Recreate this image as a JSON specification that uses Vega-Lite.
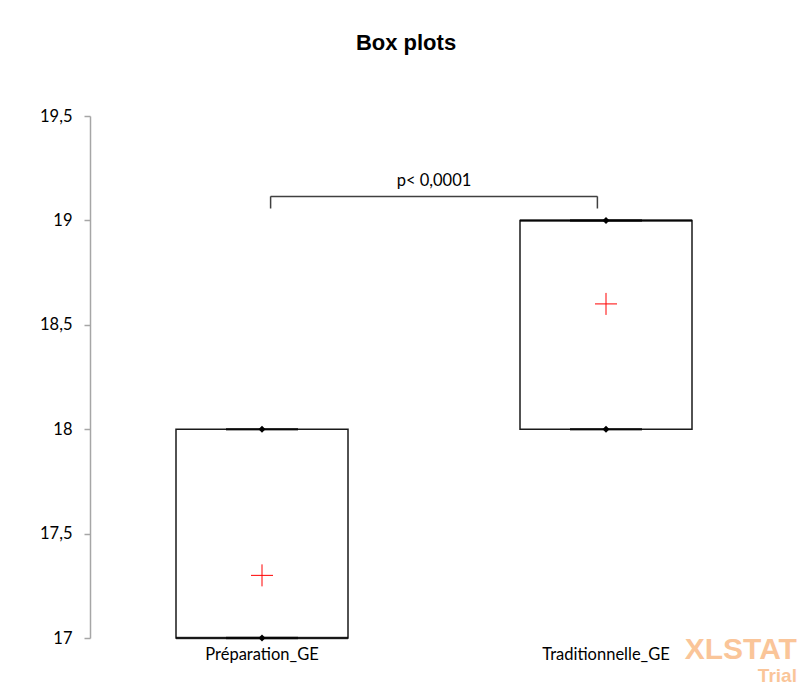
{
  "$schema": "https://vega.github.io/schema/vega-lite/v6.json",
  "width": 688,
  "height": 522,
  "autosize": {"type": "none"},
  "padding": {"left": 90, "top": 116, "right": 22, "bottom": 47},
  "background": "white",
  "title": {"text": "Box plots", "font": "Liberation Sans", "fontSize": 22, "fontWeight": "bold", "color": "#000000", "anchor": "middle", "dx": -28, "offset": 53},
  "datasets": {
    "boxes": [
      {"grp": "Préparation_GE", "min": 17, "q1": 17, "median": 17, "q3": 18, "max": 18, "mean": 17.3},
      {"grp": "Traditionnelle_GE", "min": 18, "q1": 18, "median": 19, "q3": 19, "max": 19, "mean": 18.6}
    ],
    "annot": [
      {"g1": "Préparation_GE", "g2": "Traditionnelle_GE", "ytop": 19.115, "ybot": 19.057, "ylab": 19.187, "label": "p< 0,0001"}
    ],
    "mark": [
      {"grp": "Traditionnelle_GE", "y": 16.9, "label": "XLSTAT", "kind": "big"},
      {"grp": "Traditionnelle_GE", "y": 16.79, "label": "Trial", "kind": "small"}
    ]
  },
  "config": {
    "locale": {"number": {"decimal": ",", "thousands": " ", "grouping": [3], "currency": ["", " €"]}},
    "view": {"stroke": null},
    "font": "Lato"
  },
  "layer": [
    {
      "data": {"name": "boxes"},
      "mark": {"type": "bar", "fill": "white", "stroke": "#1a1a1a", "strokeWidth": 1.5},
      "encoding": {
        "x": {"field": "grp", "type": "nominal", "scale": {"domain": ["Préparation_GE", "Traditionnelle_GE"], "paddingInner": 0.5, "paddingOuter": 0.25},
              "axis": {"title": null, "domain": false, "ticks": false, "labelAngle": 0, "labelFont": "Lato", "labelFontSize": 16.5, "labelColor": "#000000", "labelPadding": 8}},
        "y": {"field": "q1", "type": "quantitative", "scale": {"domain": [17, 19.5], "nice": false, "zero": false},
              "axis": {"title": null, "values": [17, 17.5, 18, 18.5, 19, 19.5], "format": ".1~f", "grid": false, "domainColor": "#a6a6a6", "domainWidth": 1.5, "tickColor": "#a6a6a6", "tickSize": 6, "tickWidth": 1.5, "labelFont": "Lato", "labelFontSize": 16.5, "labelColor": "#000000", "labelPadding": 12}},
        "y2": {"field": "q3"}
      }
    },
    {
      "data": {"name": "boxes"},
      "mark": {"type": "tick", "color": "#000000", "thickness": 2.5, "size": 172},
      "encoding": {
        "x": {"field": "grp", "type": "nominal"},
        "y": {"field": "median", "type": "quantitative"}
      }
    },
    {
      "data": {"name": "boxes"},
      "mark": {"type": "tick", "color": "#000000", "thickness": 2.5, "size": 72},
      "encoding": {
        "x": {"field": "grp", "type": "nominal"},
        "y": {"field": "min", "type": "quantitative"}
      }
    },
    {
      "data": {"name": "boxes"},
      "mark": {"type": "tick", "color": "#000000", "thickness": 2.5, "size": 72},
      "encoding": {
        "x": {"field": "grp", "type": "nominal"},
        "y": {"field": "max", "type": "quantitative"}
      }
    },
    {
      "data": {"name": "boxes"},
      "mark": {"type": "point", "shape": "diamond", "filled": true, "color": "#000000", "size": 49, "opacity": 1},
      "encoding": {
        "x": {"field": "grp", "type": "nominal"},
        "y": {"field": "min", "type": "quantitative"}
      }
    },
    {
      "data": {"name": "boxes"},
      "mark": {"type": "point", "shape": "diamond", "filled": true, "color": "#000000", "size": 49, "opacity": 1},
      "encoding": {
        "x": {"field": "grp", "type": "nominal"},
        "y": {"field": "max", "type": "quantitative"}
      }
    },
    {
      "data": {"name": "boxes"},
      "mark": {"type": "point", "shape": "M-1,0L1,0M0,-1L0,1", "filled": false, "stroke": "#ff0000", "strokeWidth": 1, "size": 484, "opacity": 1},
      "encoding": {
        "x": {"field": "grp", "type": "nominal"},
        "y": {"field": "mean", "type": "quantitative"}
      }
    },
    {
      "data": {"name": "annot"},
      "mark": {"type": "rule", "color": "#404040", "strokeWidth": 1.5},
      "encoding": {
        "x": {"field": "g1", "type": "nominal", "bandPosition": 0.55},
        "x2": {"field": "g2", "bandPosition": 0.45},
        "y": {"field": "ytop", "type": "quantitative"}
      }
    },
    {
      "data": {"name": "annot"},
      "mark": {"type": "rule", "color": "#404040", "strokeWidth": 1.5},
      "encoding": {
        "x": {"field": "g1", "type": "nominal", "bandPosition": 0.55},
        "y": {"field": "ybot", "type": "quantitative"},
        "y2": {"field": "ytop"}
      }
    },
    {
      "data": {"name": "annot"},
      "mark": {"type": "rule", "color": "#404040", "strokeWidth": 1.5},
      "encoding": {
        "x": {"field": "g2", "type": "nominal", "bandPosition": 0.45},
        "y": {"field": "ybot", "type": "quantitative"},
        "y2": {"field": "ytop"}
      }
    },
    {
      "data": {"name": "annot"},
      "mark": {"type": "text", "font": "Lato", "fontSize": 16.5, "color": "#000000", "baseline": "middle", "align": "center"},
      "encoding": {
        "x": {"field": "g1", "type": "nominal", "bandPosition": 1.5},
        "y": {"field": "ylab", "type": "quantitative"},
        "text": {"field": "label"}
      }
    },
    {
      "data": {"name": "mark"},
      "mark": {"type": "text", "font": "Liberation Sans", "fontWeight": "bold", "color": "#f79646", "opacity": 0.55, "baseline": "alphabetic", "align": "right"},
      "encoding": {
        "x": {"field": "grp", "type": "nominal", "bandPosition": 1.61},
        "y": {"field": "y", "type": "quantitative"},
        "text": {"field": "label"},
        "size": {"field": "kind", "type": "nominal", "scale": {"domain": ["big", "small"], "range": [30, 19]}, "legend": null}
      }
    }
  ]
}
